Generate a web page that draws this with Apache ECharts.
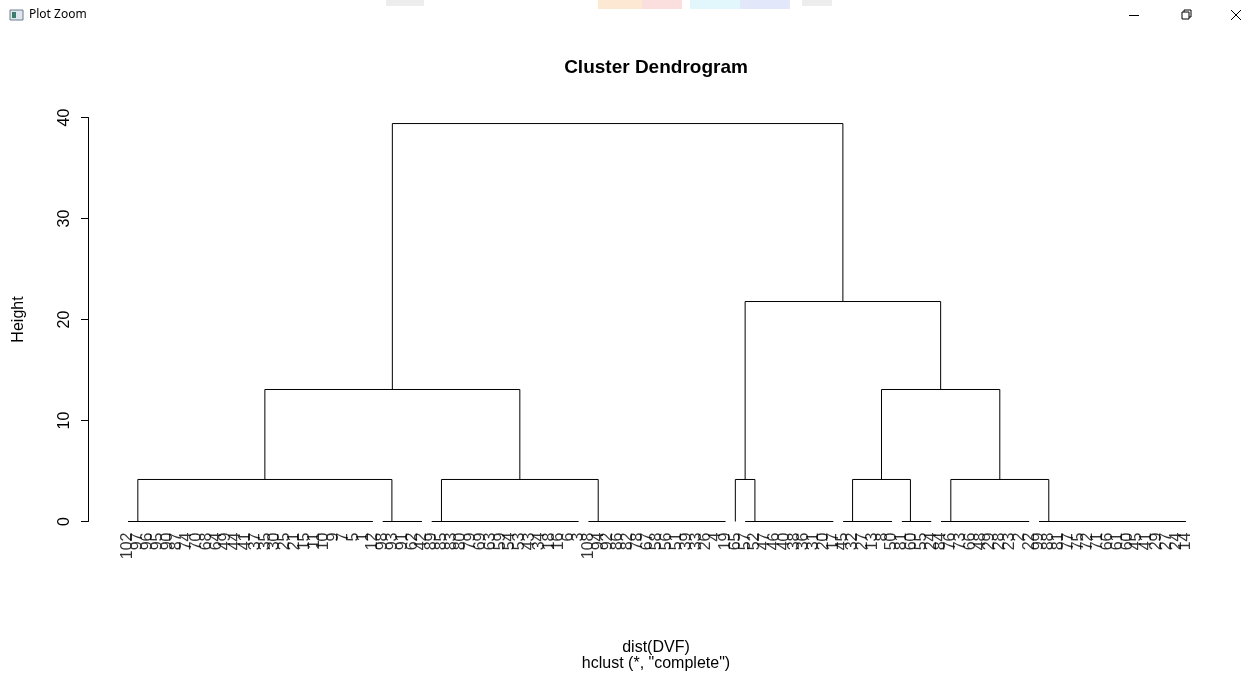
<!DOCTYPE html>
<html>
<head>
<meta charset="utf-8">
<script src="https://cdn.jsdelivr.net/npm/echarts@6/dist/echarts.min.js"></script>
<style>
  html, body { margin: 0; padding: 0; background: #fff; }
  #chart { width: 1248px; height: 676px; }
</style>
</head>
<body>
<div id="chart"></div>
<script>
// Leaf labels of each cluster, left to right. Members of a cluster are identical rows (merged at height 0).
const clusterA = [102, 97, 96, 95, 90, 87, 74, 70, 68, 64, 49, 44, 41, 37, 35, 30, 25, 21, 15, 11, 10, 9, 7, 5, 1, 12];
const clusterB = [98, 93, 91, 62, 42];
const clusterC = [89, 85, 83, 80, 79, 69, 63, 59, 54, 53, 43, 34, 18, 16, 6, 3];
const clusterD = [108, 94, 92, 86, 82, 78, 67, 58, 56, 51, 39, 33, 26, 4, 19];
const clusterE = [65];
const clusterF = [57, 52, 47, 46, 40, 38, 36, 31, 20, 17];
const clusterG = [45, 32, 27, 13, 8, 50];
const clusterH = [81, 60, 55, 24];
const clusterI = [84, 76, 73, 66, 48, 29, 28, 23, 2, 22];
const clusterJ = [99, 88, 81, 77, 75, 72, 71, 66, 61, 60, 45, 41, 29, 27, 24, 14];
const clusters = [clusterA, clusterB, clusterC, clusterD, clusterE, clusterF, clusterG, clusterH, clusterI, clusterJ];

// Merge heights (complete linkage)
const heightLow = 4.16;
const heightMid = 13.07;
const heightRight = 21.78;
const heightRoot = 39.4;

// Merge tree: [height, left, right]; a plain number is an index into `clusters`
const mergeTree = [heightRoot,
  [heightMid, [heightLow, 0, 1], [heightLow, 2, 3]],
  [heightRight, [heightLow, 4, 5], [heightMid, [heightLow, 6, 7], [heightLow, 8, 9]]]
];

const yTicks = [0, 10, 20, 30, 40];

// ---- dendrogram geometry in data space (x = leaf order, y = height) ----
const leafLabels = [].concat(...clusters);
let cursor = 0;
const clusterLeaves = clusters.map(c => {
  const idx = c.map((_, k) => cursor + k);
  cursor += c.length;
  return idx;
});

const segments = [];
function join(a, b, h) {
  segments.push([[a.x, a.h], [a.x, h], [b.x, h], [b.x, b.h]]);
  return { x: (a.x + b.x) / 2, h: h };
}
// identical rows are merged one at a time at height 0
function chain(idx) {
  if (idx.length === 1) return { x: idx[0], h: 0 };
  return join({ x: idx[0], h: 0 }, chain(idx.slice(1)), 0);
}
function build(node) {
  if (typeof node === 'number') return chain(clusterLeaves[node]);
  return join(build(node[1]), build(node[2]), node[0]);
}
build(mergeTree);

const n = leafLabels.length;
const FONT = "'Liberation Sans', Arial, sans-serif";

const chart = echarts.init(document.getElementById('chart'), null, { renderer: 'canvas' });
chart.setOption({
  backgroundColor: '#ffffff',
  animation: false,
  // half-pixel top keeps the horizontal links crisp
  grid: { left: 88, top: 117.5, width: 1142, height: 404, containLabel: false },
  xAxis: {
    type: 'value',
    min: -4.087,
    max: (n - 1) + 4.5,
    show: false
  },
  yAxis: {
    type: 'value',
    min: yTicks[0],
    max: yTicks[yTicks.length - 1],
    interval: 10,
    axisLine: { show: true, onZero: false, lineStyle: { color: '#000', width: 1 } },
    axisTick: { show: true, length: 7, lineStyle: { color: '#000', width: 1 } },
    splitLine: { show: false },
    axisLabel: { rotate: 90, margin: 15, fontSize: 16, color: '#000', fontFamily: FONT },
    name: 'Height',
    nameLocation: 'middle',
    nameRotate: 90,
    nameGap: 61,
    nameTextStyle: { fontSize: 16, color: '#000', fontFamily: FONT }
  },
  series: [
    {
      type: 'lines',
      coordinateSystem: 'cartesian2d',
      polyline: true,
      silent: true,
      clip: false,
      lineStyle: { color: '#000', width: 1, opacity: 1 },
      data: segments.map(c => ({ coords: c }))
    },
    {
      type: 'scatter',
      symbolSize: 0,
      silent: true,
      clip: false,
      data: leafLabels.map((_, i) => [i, 0]),
      label: {
        show: true,
        formatter: p => String(leafLabels[p.dataIndex]),
        position: 'bottom',
        distance: 11,
        rotate: 90,
        align: 'right',
        verticalAlign: 'middle',
        fontSize: 16,
        color: '#000',
        fontFamily: FONT
      }
    }
  ],
  graphic: [
    { type: 'text', style: { x: 656, y: 68, text: 'Cluster Dendrogram', align: 'center', verticalAlign: 'middle', font: "bold 19px " + FONT, fill: '#000' } },
    { type: 'text', style: { x: 656, y: 648, text: 'dist(DVF)', align: 'center', verticalAlign: 'middle', font: "16px " + FONT, fill: '#000' } },
    { type: 'text', style: { x: 656, y: 664, text: 'hclust (*, "complete")', align: 'center', verticalAlign: 'middle', font: "16px " + FONT, fill: '#000' } },
    // faint banner strip along the top edge
    { type: 'rect', shape: { x: 386, y: 0, width: 38, height: 6 }, style: { fill: '#d8d8d8', opacity: 0.45 } },
    { type: 'rect', shape: { x: 598, y: 0, width: 44, height: 9 }, style: { fill: '#fcd9b8', opacity: 0.6 } },
    { type: 'rect', shape: { x: 642, y: 0, width: 40, height: 9 }, style: { fill: '#f8c9c9', opacity: 0.6 } },
    { type: 'rect', shape: { x: 690, y: 0, width: 50, height: 9 }, style: { fill: '#cdf1f8', opacity: 0.6 } },
    { type: 'rect', shape: { x: 740, y: 0, width: 50, height: 9 }, style: { fill: '#cfd9f5', opacity: 0.6 } },
    { type: 'rect', shape: { x: 802, y: 0, width: 30, height: 6 }, style: { fill: '#d8d8d8', opacity: 0.45 } },
    // window title bar
    { type: 'rect', shape: { x: 10, y: 10, width: 13, height: 10 }, style: { fill: '#dfe6ee', stroke: '#6d7c8c', lineWidth: 1 } },
    { type: 'rect', shape: { x: 12, y: 12, width: 4, height: 6 }, style: { fill: '#3a7d6a' } },
    { type: 'text', style: { x: 29, y: 15, text: 'Plot Zoom', align: 'left', verticalAlign: 'middle', font: "12px 'Noto Sans', sans-serif", fill: '#000' } },
    { type: 'line', shape: { x1: 1129, y1: 15.5, x2: 1139, y2: 15.5 }, style: { stroke: '#000', lineWidth: 1 } },
    { type: 'rect', shape: { x: 1182, y: 12, width: 7, height: 7 }, style: { fill: 'none', stroke: '#000', lineWidth: 1 } },
    { type: 'polyline', shape: { points: [[1184, 12], [1184, 10], [1191, 10], [1191, 17], [1189, 17]] }, style: { fill: 'none', stroke: '#000', lineWidth: 1 } },
    { type: 'line', shape: { x1: 1231, y1: 10, x2: 1241, y2: 20 }, style: { stroke: '#000', lineWidth: 1 } },
    { type: 'line', shape: { x1: 1241, y1: 10, x2: 1231, y2: 20 }, style: { stroke: '#000', lineWidth: 1 } }
  ]
});
</script>
</body>
</html>
